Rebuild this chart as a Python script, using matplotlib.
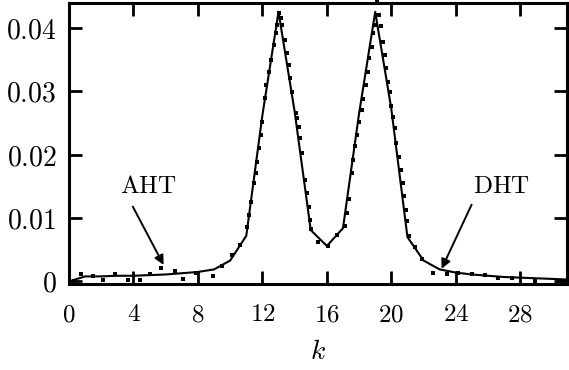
import matplotlib
matplotlib.use('Agg')
import matplotlib.pyplot as plt
import numpy as np

plt.rcParams['mathtext.fontset'] = 'cm'
plt.rcParams['font.family'] = 'DejaVu Serif'

# solid curve, one value per integer k
k_line = list(range(0, 32))
v_line = [0.0000, 0.0008, 0.0008, 0.0009, 0.0009, 0.0010, 0.0011, 0.0013,
          0.0015, 0.0019, 0.0033, 0.0072, 0.0262, 0.0425, 0.0268, 0.0081,
          0.0056, 0.0084, 0.0265, 0.0425, 0.0272, 0.0070, 0.0033, 0.0019,
          0.0014, 0.0011, 0.0009, 0.0007, 0.0006, 0.0005, 0.0004, 0.0003]

# dotted points
k_dots = [0.3, 0.76, 1.48, 2.1, 2.83, 3.65, 4.38, 5.0, 5.73, 6.55, 7.07, 7.9,
          8.93, 9.5, 10.1, 10.6, 11.05, 11.17, 11.32, 11.48, 11.58, 11.66,
          11.79, 11.89, 12.0, 12.14, 12.25, 12.39, 12.52, 12.72, 12.83, 12.91,
          13.01, 13.14, 13.24, 13.4, 13.53, 13.63, 13.74, 13.86, 14.07, 14.17,
          14.25, 14.34, 14.48, 14.63, 14.77, 14.9, 14.98, 15.04, 15.45, 16.07,
          16.6, 17.1, 17.24, 17.38, 17.57, 17.65, 17.73, 17.88, 18.0, 18.15,
          18.25, 18.42, 18.58, 18.62, 18.77, 18.87, 18.98, 19.04, 19.12, 19.24,
          19.33, 19.49, 19.6, 19.7, 19.8, 19.9, 20.01, 20.11, 20.22, 20.32,
          20.45, 20.6, 20.7, 20.78, 20.9, 20.99, 21.08, 21.46, 21.88, 22.6,
          23.43, 24.15, 24.98, 25.8, 26.6, 27.47, 28.9, 30.4, 30.7]
v_dots = [0.0001, 0.0011, 0.0009, 0.0002, 0.0012, 0.0003, 0.0003, 0.0012,
          0.0021, 0.0016, 0.0004, 0.0014, 0.0008, 0.0024, 0.0041, 0.0058,
          0.0086, 0.0105, 0.0126, 0.0155, 0.0171, 0.0189, 0.0210, 0.0231,
          0.0252, 0.0289, 0.0310, 0.0331, 0.0349, 0.0373, 0.0391, 0.0404,
          0.0423, 0.0415, 0.0404, 0.0381, 0.0360, 0.0341, 0.0320, 0.0299,
          0.0265, 0.0257, 0.0244, 0.0226, 0.0202, 0.0160, 0.0139, 0.0118,
          0.0097, 0.0082, 0.0062, 0.0056, 0.0074, 0.0087, 0.0108, 0.0130,
          0.0171, 0.0192, 0.0213, 0.0231, 0.0252, 0.0271, 0.0287, 0.0310,
          0.0331, 0.0352, 0.0370, 0.0391, 0.0404, 0.0420, 0.0440, 0.0420,
          0.0402, 0.0378, 0.0357, 0.0336, 0.0315, 0.0299, 0.0276, 0.0260,
          0.0242, 0.0218, 0.0197, 0.0176, 0.0155, 0.0134, 0.0113, 0.0095,
          0.0071, 0.0054, 0.0035, 0.0014, 0.0011, 0.0014, 0.0012, 0.0010,
          0.0006, 0.0005, 0.0000, 0.0000, 0.0001]

xticks = [0, 4, 8, 12, 16, 20, 24, 28]
xtick_labels = [r'$0$', r'$4$', r'$8$', r'$12$', r'$16$', r'$20$', r'$24$', r'$28$']
yticks = [0, 0.01, 0.02, 0.03, 0.04]
ytick_labels = [r'$0$', r'$0.01$', r'$0.02$', r'$0.03$', r'$0.04$']

fig = plt.figure(figsize=(5.69, 3.70), dpi=100)
ax = fig.add_axes([69/569, 86/370, 498/569, 281/370])

ax.plot(k_line, v_line, color='black', lw=1.5, clip_on=True)
ax.plot(k_dots, v_dots, 's', color='black', ms=2.5, mew=0, clip_on=False)

ax.set_xlim(0, 30.9)
ax.set_ylim(-0.0004, 0.0439)

ax.set_xticks(xticks)
ax.set_xticklabels(xtick_labels)
ax.set_yticks(yticks)
ax.set_yticklabels(ytick_labels)
ax.tick_params(direction='in', length=9.5, width=2.0, labelsize=18,
               top=True, right=True)
ax.tick_params(axis='x', pad=14)
ax.tick_params(axis='y', pad=9, labelsize=20)
for s in ax.spines.values():
    s.set_linewidth(2.2)

ax.set_xlabel(r'$k$', fontsize=20, labelpad=8)

arrow = dict(arrowstyle='-|>', color='black', lw=1.4, mutation_scale=14,
             shrinkA=0, shrinkB=0)
ax.annotate('', xy=(5.87, 0.0026), xytext=(3.96, 0.0118), arrowprops=arrow)
ax.text(4.94, 0.0150, r'$\mathrm{AHT}$', fontsize=18, ha='center', va='center')
ax.annotate('', xy=(23.12, 0.0020), xytext=(24.98, 0.0121), arrowprops=arrow)
ax.text(26.84, 0.0150, r'$\mathrm{DHT}$', fontsize=18, ha='center', va='center')

fig.savefig('out.png', dpi=100)
